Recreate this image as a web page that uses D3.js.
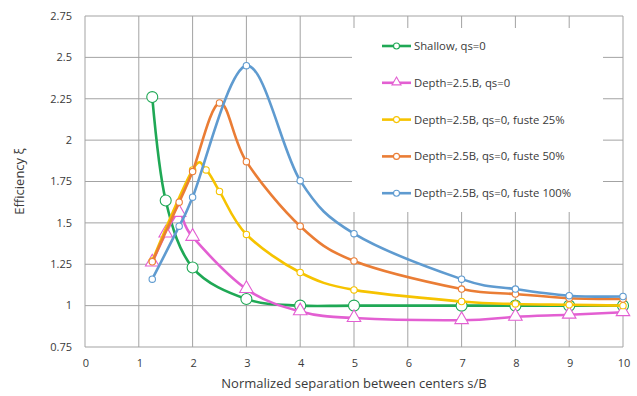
<!DOCTYPE html>
<html>
<head>
<meta charset="utf-8">
<script src="https://cdn.jsdelivr.net/npm/d3@7"></script>
<style>
  body { margin: 0; background: #fff; }
  text { font-family: "Open Sans", "Noto Sans", sans-serif; fill: #3a3a3a; }
</style>
</head>
<body>
<div id="chart"></div>
<script>
// data
const shallowX = [1.25, 1.5, 2, 3, 4, 5, 7, 8, 9, 10];
const shallowY = [2.26, 1.635, 1.23, 1.04, 1.0, 1.0, 1.0, 1.0, 1.0, 1.0];

const depthX = [1.25, 1.5, 1.75, 2, 3, 4, 5, 7, 8, 9, 10];
const depthY = [1.26, 1.435, 1.56, 1.415, 1.10, 0.965, 0.925, 0.912, 0.932, 0.945, 0.96];

const fuste25X = [1.25, 2, 2.25, 2.5, 3, 4, 5, 7, 8, 9, 10];
const fuste25Y = [1.27, 1.82, 1.82, 1.69, 1.43, 1.20, 1.095, 1.025, 1.01, 1.005, 1.0];

const fuste50X = [1.25, 1.75, 2, 2.5, 3, 4, 5, 7, 8, 9, 10];
const fuste50Y = [1.265, 1.625, 1.81, 2.225, 1.87, 1.48, 1.27, 1.10, 1.07, 1.045, 1.04];

const fuste100X = [1.25, 1.75, 2, 3, 4, 5, 7, 8, 9, 10];
const fuste100Y = [1.16, 1.48, 1.655, 2.45, 1.755, 1.435, 1.16, 1.10, 1.06, 1.055];

const seriesNames = [
  "Shallow, qs=0",
  "Depth=2.5.B, qs=0",
  "Depth=2.5B, qs=0, fuste 25%",
  "Depth=2.5B, qs=0, fuste 50%",
  "Depth=2.5B, qs=0, fuste 100%"
];
const xTicks = [0, 1, 2, 3, 4, 5, 6, 7, 8, 9, 10];
const yTicks = [0.75, 1, 1.25, 1.5, 1.75, 2, 2.25, 2.5, 2.75];

const series = [
  { name: seriesNames[0], xs: shallowX, ys: shallowY, color: "#1fa855", marker: "circle", r: 5.5 },
  { name: seriesNames[1], xs: depthX, ys: depthY, color: "#e35fd2", marker: "triangle", r: 6 },
  { name: seriesNames[2], xs: fuste25X, ys: fuste25Y, color: "#f6c300", marker: "circle", r: 3.2 },
  { name: seriesNames[3], xs: fuste50X, ys: fuste50Y, color: "#ea7d35", marker: "circle", r: 3.2 },
  { name: seriesNames[4], xs: fuste100X, ys: fuste100Y, color: "#5f9bd0", marker: "circle", r: 3.2 }
];

const W = 637, H = 396;
const margin = { top: 16, right: 14, bottom: 49, left: 85 };

const svg = d3.select("#chart").append("svg")
  .attr("width", W).attr("height", H);

const x = d3.scaleLinear().domain([0, 10]).range([margin.left, W - margin.right]);
const y = d3.scaleLinear().domain([0.75, 2.75]).range([H - margin.bottom, margin.top]);

const gridColor = "#a3a3a3";

// grid
svg.append("g")
  .selectAll("line")
  .data(yTicks)
  .join("line")
  .attr("x1", x(0)).attr("x2", x(10))
  .attr("y1", d => y(d)).attr("y2", d => y(d))
  .attr("stroke", gridColor).attr("stroke-width", 1);

svg.append("g")
  .selectAll("line")
  .data(xTicks)
  .join("line")
  .attr("x1", d => x(d)).attr("x2", d => x(d))
  .attr("y1", y(0.75)).attr("y2", y(2.75))
  .attr("stroke", gridColor).attr("stroke-width", 1);

// tick labels
svg.append("g")
  .selectAll("text")
  .data(yTicks)
  .join("text")
  .attr("x", x(0) - 13)
  .attr("y", d => y(d))
  .attr("dy", "0.35em")
  .attr("text-anchor", "end")
  .attr("font-size", 11)
  .text(d => d);

svg.append("g")
  .selectAll("text")
  .data(xTicks)
  .join("text")
  .attr("x", d => x(d) + 1)
  .attr("y", y(0.75) + 20)
  .attr("text-anchor", "middle")
  .attr("font-size", 11)
  .text(d => d);

// axis titles
svg.append("text")
  .attr("x", (x(0) + x(10)) / 2)
  .attr("y", 388)
  .attr("text-anchor", "middle")
  .attr("font-size", 13)
  .text("Normalized separation between centers s/B");

svg.append("text")
  .attr("transform", `translate(24, ${(y(0.75) + y(2.75)) / 2}) rotate(-90)`)
  .attr("text-anchor", "middle")
  .attr("font-size", 13)
  .text("Efficiency ξ");

// legend background hides the grid behind it
const legend = { x: 352, y: 28, w: 251, h: 184 };
svg.append("rect")
  .attr("x", legend.x).attr("y", legend.y)
  .attr("width", legend.w).attr("height", legend.h)
  .attr("fill", "#fff");

const line = d3.line()
  .x(d => x(d[0]))
  .y(d => y(d[1]))
  .curve(d3.curveCardinal.tension(0));

const tri = d3.symbol().type(d3.symbolTriangle);

function drawMarker(g, s, px, py, r) {
  if (s.marker === "triangle") {
    g.append("path")
      .attr("d", tri.size(r * r * 2.2)())
      .attr("transform", `translate(${px},${py - 0.5})`)
      .attr("fill", "#fff")
      .attr("stroke", s.color)
      .attr("stroke-width", 1.1);
  } else {
    g.append("circle")
      .attr("cx", px).attr("cy", py).attr("r", r)
      .attr("fill", "#fff")
      .attr("stroke", s.color)
      .attr("stroke-width", 1.1);
  }
}

series.forEach(s => {
  const pts = s.xs.map((v, i) => [v, s.ys[i]]);
  const g = svg.append("g");
  g.append("path")
    .attr("d", line(pts))
    .attr("fill", "none")
    .attr("stroke", s.color)
    .attr("stroke-width", 2.6);
  pts.forEach(p => drawMarker(g, s, x(p[0]), y(p[1]), s.r));
});

// legend entries
series.forEach((s, i) => {
  const ly = 46 + i * 36.8;
  const g = svg.append("g");
  g.append("line")
    .attr("x1", 382).attr("x2", 411)
    .attr("y1", ly).attr("y2", ly)
    .attr("stroke", s.color)
    .attr("stroke-width", 2.6);
  drawMarker(g, s, 396.5, ly, s.marker === "triangle" ? 4 : 3);
  g.append("text")
    .attr("x", 414)
    .attr("y", ly)
    .attr("dy", "0.35em")
    .attr("font-size", 11.3)
    .text(s.name);
});
</script>
</body>
</html>
